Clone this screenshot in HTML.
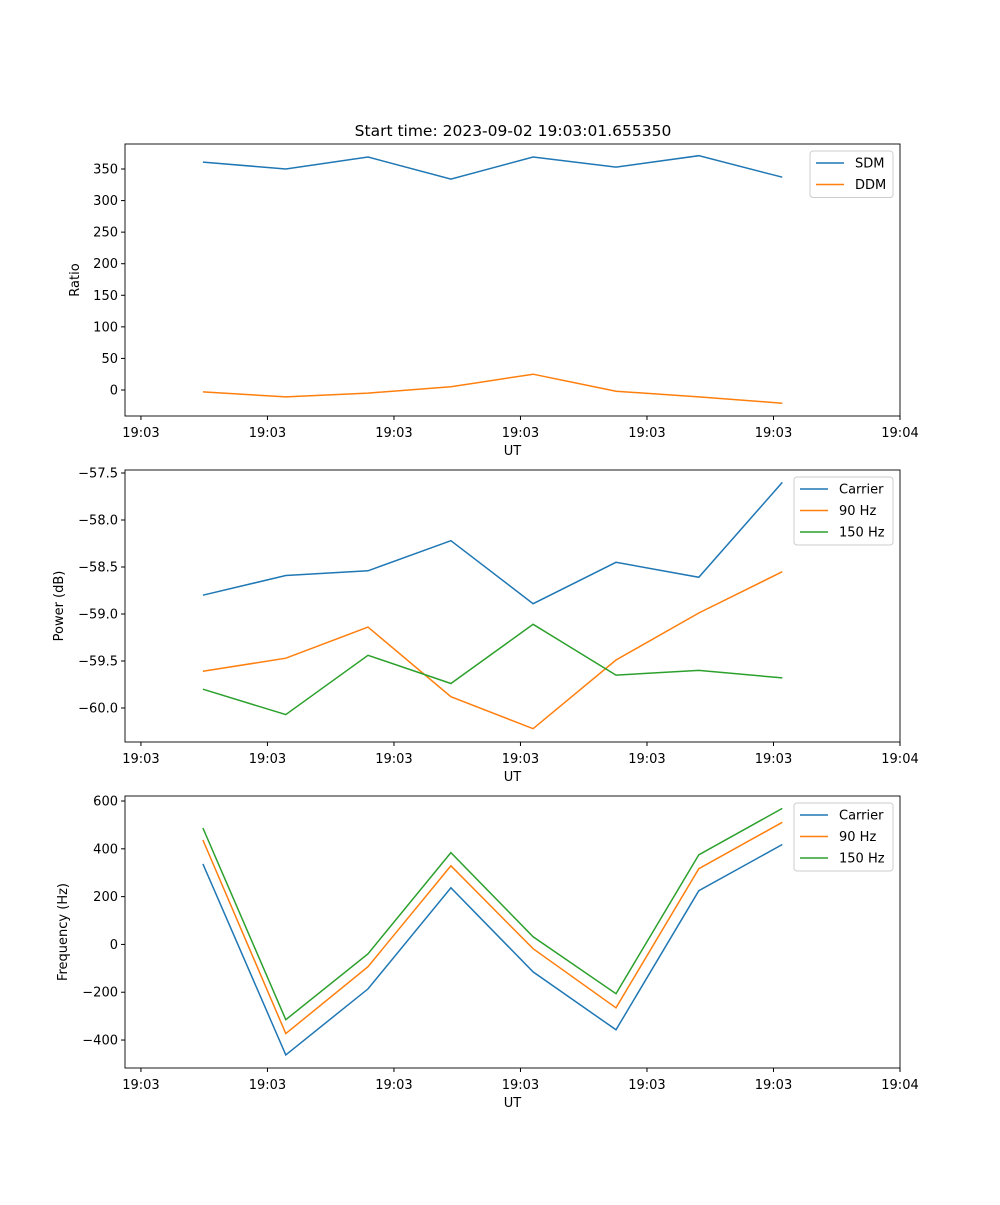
<!DOCTYPE html>
<html><head><meta charset="utf-8"><style>
body{margin:0;background:#fff}
svg{font-family:"DejaVu Sans","Liberation Sans",sans-serif}
</style></head><body>
<svg id="fig" width="1000" height="1200" viewBox="0 0 1000 1200" xmlns="http://www.w3.org/2000/svg">
<rect width="1000" height="1200" fill="#fff"/>
<text x="513" y="136" font-size="15.5" text-anchor="middle">Start time: 2023-09-02 19:03:01.655350</text>
</svg>
<script>
// shared x data (seconds since 19:03:00)
const times = [4.9, 11.45, 17.95, 24.5, 31.0, 37.55, 44.1, 50.7];
const xTickVals = [0, 10, 20, 30, 40, 50, 60];
const xTickLabels = ["19:03","19:03","19:03","19:03","19:03","19:03","19:04"];
// panel 1
const sdm = [361, 350, 369, 334, 369, 353, 371, 337];
const ddm = [-3, -11, -5, 5, 25, -2, -11, -21];
const ratioTicks = [0, 50, 100, 150, 200, 250, 300, 350];
// panel 2
const pCarrier = [-58.80, -58.59, -58.54, -58.22, -58.89, -58.45, -58.61, -57.60];
const p90 = [-59.61, -59.47, -59.14, -59.88, -60.22, -59.49, -58.99, -58.55];
const p150 = [-59.80, -60.07, -59.44, -59.74, -59.11, -59.65, -59.60, -59.68];
const powerTicks = [-60.0, -59.5, -59.0, -58.5, -58.0, -57.5];
// panel 3
const fCarrier = [337, -462, -186, 237, -115, -357, 225, 418];
const f90 = [437, -373, -93, 329, -18, -265, 317, 511];
const f150 = [487, -315, -39, 384, 32, -206, 375, 569];
const freqTicks = [-400, -200, 0, 200, 400, 600];

const NS = "http://www.w3.org/2000/svg";
const svg = document.getElementById('fig');
const L = 125, R = 900;
const xMin = -1.26, xMax = 60;
const xs = v => L + (v - xMin) / (xMax - xMin) * (R - L);
function mk(tag, attrs, parent){ const e = document.createElementNS(NS, tag); for (const k in attrs) e.setAttribute(k, attrs[k]); (parent||svg).appendChild(e); return e; }

function panel(id, top, bottom, yMin, yMax, ticks, fmt, ylabel, ylabX, series, legend){
  const ys = v => bottom - (v - yMin) / (yMax - yMin) * (bottom - top);
  const g = mk('g', {});
  
  
  series.forEach(s => {
    const pts = times.map((t, i) => xs(t).toFixed(1) + ',' + ys(s.vals[i]).toFixed(1)).join(' ');
    const pl = mk('polyline', {points: pts, fill: 'none', stroke: s.color, 'stroke-width': 1.5}, g);
    
    
  });
  mk('rect', {x: L, y: top, width: R - L, height: bottom - top, fill: 'none', stroke: '#000', 'stroke-width': 0.9}, g);
  xTickVals.forEach((v, i) => {
    const x = xs(v);
    mk('line', {x1: x, x2: x, y1: bottom, y2: bottom + 4, stroke: '#000'}, g);
    const t = mk('text', {x: x, y: bottom + 21, 'font-size': 13, 'text-anchor': 'middle'}, g);
    t.textContent = xTickLabels[i];
    
    
  });
  const xl = mk('text', {x: (L + R) / 2, y: bottom + 39, 'font-size': 13, 'text-anchor': 'middle'}, g);
  xl.textContent = 'UT';
  
  
  ticks.forEach(v => {
    const y = ys(v);
    mk('line', {x1: L - 4, x2: L, y1: y, y2: y, stroke: '#000'}, g);
    const t = mk('text', {x: L - 7, y: y + 4.5, 'font-size': 13, 'text-anchor': 'end'}, g);
    t.textContent = fmt(v);
    
    
  });
  const yl = mk('text', {x: ylabX, y: (top + bottom) / 2, 'font-size': 13, 'text-anchor': 'middle', transform: 'rotate(-90 ' + ylabX + ' ' + (top + bottom) / 2 + ')'}, g);
  yl.textContent = ylabel;
  
  
  const lg = mk('g', {}, g);
  
  
  mk('rect', {x: legend.x, y: top + 7, width: R - 7 - legend.x, height: series.length * 21.5 + 3.5, rx: 3, fill: '#fff', 'fill-opacity': 0.8, stroke: '#ccc'}, lg);
  series.forEach((s, i) => {
    const y = top + 19 + i * 21.5;
    mk('line', {x1: legend.x + 6, x2: legend.x + 34, y1: y, y2: y, stroke: s.color, 'stroke-width': 1.5}, lg);
    const t = mk('text', {x: legend.x + 45, y: y + 4.5, 'font-size': 13}, lg);
    t.textContent = s.key;
    
    
  });
}
const minus = s => s.replace('-', '\u2212');
panel('ratio', 144, 416, -41.2, 389.6, ratioTicks, v => minus(String(v)), 'Ratio', 79,
  [{key:'SDM', vals:sdm, color:'#1f77b4'}, {key:'DDM', vals:ddm, color:'#ff7f0e'}], {x: 810});
panel('power', 470, 742, -60.362, -57.468, powerTicks, v => minus(v.toFixed(1)), 'Power (dB)', 63,
  [{key:'Carrier', vals:pCarrier, color:'#1f77b4'}, {key:'90 Hz', vals:p90, color:'#ff7f0e'}, {key:'150 Hz', vals:p150, color:'#2ca02c'}], {x: 794});
panel('frequency', 796, 1068, -517, 621, freqTicks, v => minus(String(v)), 'Frequency (Hz)', 67,
  [{key:'Carrier', vals:fCarrier, color:'#1f77b4'}, {key:'90 Hz', vals:f90, color:'#ff7f0e'}, {key:'150 Hz', vals:f150, color:'#2ca02c'}], {x: 794});
</script>
</body></html>
